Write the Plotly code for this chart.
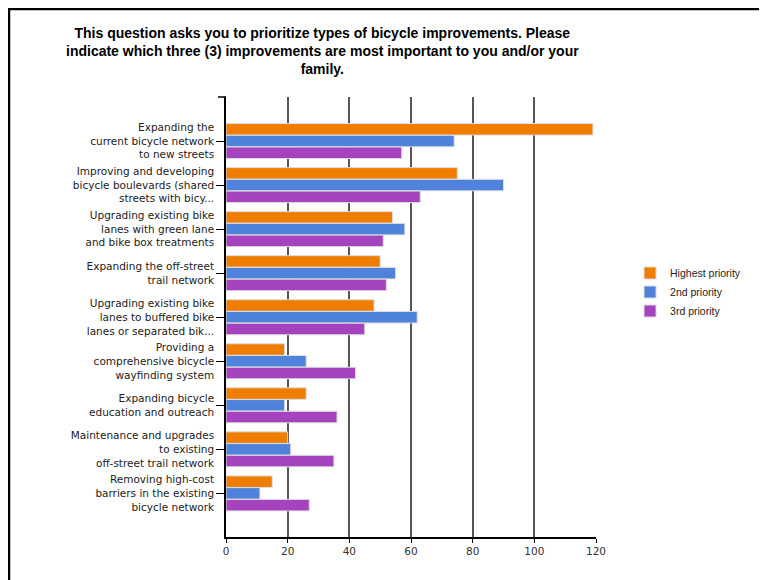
import plotly.graph_objects as go

# survey answers, top to bottom as in the chart
categories = [
    'Expanding the<br>current bicycle network<br>to new streets',
    'Improving and developing<br>bicycle boulevards (shared<br>streets with bicy...',
    'Upgrading existing bike<br>lanes with green lane<br>and bike box treatments',
    'Expanding the off-street<br>trail network',
    'Upgrading existing bike<br>lanes to buffered bike<br>lanes or separated bik...',
    'Providing a<br>comprehensive bicycle<br>wayfinding system',
    'Expanding bicycle<br>education and outreach',
    'Maintenance and upgrades<br>to existing<br>off-street trail network',
    'Removing high-cost<br>barriers in the existing<br>bicycle network',
]
highest = [119, 75, 54, 50, 48, 19, 26, 20, 15]
second = [74, 90, 58, 55, 62, 26, 19, 21, 11]
third = [57, 63, 51, 52, 45, 42, 36, 35, 27]
x_ticks = [0, 20, 40, 60, 80, 100, 120]

FONT = 'Arial, Liberation Sans, sans-serif'
LABEL_FONT = 'DejaVu Sans, Verdana, sans-serif'
positions = list(range(len(categories)))

series = [
    ('Highest priority', highest, '#EF7D00'),
    ('2nd priority', second, '#4F82DB'),
    ('3rd priority', third, '#A543BF'),
]

fig = go.Figure()
for name, vals, col in series:
    fig.add_trace(go.Bar(
        y=positions, x=vals, name=name, orientation='h',
        marker=dict(color=col, line=dict(color='#dcdcdc', width=1)),
    ))

# page has an 8px body margin, so the figure is laid out 8px up/left
OFF = 8
L, R, T, B = 226 - OFF, 596 - OFF, 97 - OFF, 537 - OFF
W, H = 767 - OFF, 580 - OFF
pw, ph = R - L, B - T

def px(x):
    return (x - L) / pw

def py(y):
    return (B - y) / ph

fig.update_layout(
    width=W, height=H,
    margin=dict(l=L, r=W - R, t=T, b=H - B, pad=0),
    plot_bgcolor='white', paper_bgcolor='white',
    barmode='group', bargap=0.2, bargroupgap=0.02,
    font=dict(family=FONT, size=11, color='#222222'),
    legend=dict(
        x=1.092, y=py(292 - OFF), yanchor='middle', xanchor='left',
        font=dict(size=10.5, color='#222222'),
        itemwidth=30, tracegroupgap=4,
    ),
    xaxis=dict(
        range=[0, 120], tickvals=x_ticks, showgrid=True,
        gridcolor='#555555', gridwidth=1.5,
        showline=True, linecolor='black', linewidth=1.5,
        ticks='outside', ticklen=4, tickcolor='black',
        tickfont=dict(family=LABEL_FONT, size=10.5, color='#333333'),
        zeroline=False, fixedrange=True,
    ),
    yaxis=dict(
        range=[8.99, -1], tickvals=positions, ticktext=categories,
        showgrid=False, zeroline=False,
        showline=True, linecolor='black', linewidth=1.5,
        ticks='outside', ticklen=8, tickcolor='black',
        tickfont=dict(family=LABEL_FONT, size=10.5, color='#222222'),
    ),
    annotations=[dict(
        text='<b>This question asks you to prioritize types of bicycle improvements. Please<br>'
             'indicate which three (3) improvements are most important to you and/or your<br>'
             'family.</b>',
        x=px(322 - OFF), y=py(51 - OFF), xref='paper', yref='paper',
        xanchor='center', yanchor='middle', showarrow=False,
        font=dict(family=FONT, size=14, color='black'),
    )],
    shapes=[
        # top tick at the axis start
        dict(type='line', xref='paper', yref='paper',
             x0=px(218 - OFF), x1=0, y0=1, y1=1, line=dict(color='black', width=1.5)),
        # outer frame (left and top edges)
        dict(type='line', xref='paper', yref='paper',
             x0=px(1), x1=px(1), y0=py(0), y1=py(H + 20), line=dict(color='black', width=2.5)),
        dict(type='line', xref='paper', yref='paper',
             x0=px(0), x1=px(W + 20), y0=py(1), y1=py(1), line=dict(color='black', width=2.5)),
    ],
)

fig.write_html('out.html')
